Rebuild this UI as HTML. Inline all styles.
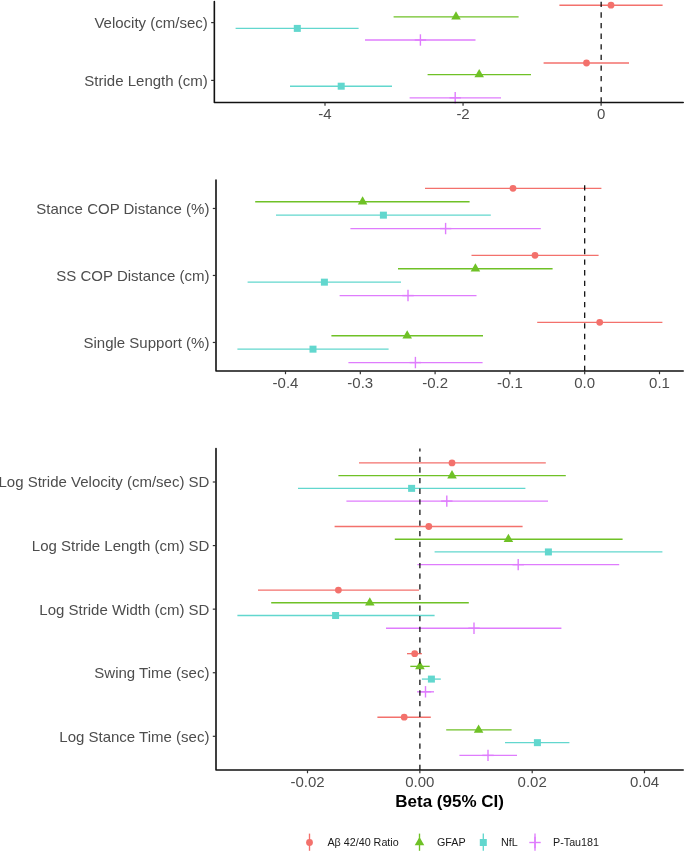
<!DOCTYPE html><html><head><meta charset="utf-8"><style>html,body{margin:0;padding:0;background:#fff}svg{display:block;will-change:transform}text{font-family:"Liberation Sans",sans-serif}</style></head><body>
<svg width="685" height="852" viewBox="0 0 685 852">
<rect width="685" height="852" fill="#fff"/>
<line x1="559.40" y1="5.20" x2="662.60" y2="5.20" stroke="#F3716C" stroke-width="1.35" />
<line x1="393.60" y1="16.80" x2="518.60" y2="16.80" stroke="#6FC126" stroke-width="1.35" />
<line x1="235.60" y1="28.40" x2="358.60" y2="28.40" stroke="#62D7CE" stroke-width="1.35" />
<line x1="365.00" y1="40.00" x2="475.50" y2="40.00" stroke="#DF7CFD" stroke-width="1.35" />
<circle cx="611.00" cy="5.20" r="3.4" fill="#F3716C"/>
<polygon points="456.00,11.28 460.78,19.56 451.22,19.56" fill="#6FC126"/>
<rect x="293.80" y="24.90" width="7.0" height="7.0" fill="#62D7CE"/>
<line x1="414.70" y1="40.00" x2="426.10" y2="40.00" stroke="#DF7CFD" stroke-width="1.4" />
<line x1="420.40" y1="34.30" x2="420.40" y2="45.70" stroke="#DF7CFD" stroke-width="1.4" />
<line x1="543.60" y1="63.00" x2="629.00" y2="63.00" stroke="#F3716C" stroke-width="1.35" />
<line x1="427.60" y1="74.60" x2="531.00" y2="74.60" stroke="#6FC126" stroke-width="1.35" />
<line x1="290.00" y1="86.20" x2="392.00" y2="86.20" stroke="#62D7CE" stroke-width="1.35" />
<line x1="409.60" y1="97.80" x2="501.00" y2="97.80" stroke="#DF7CFD" stroke-width="1.35" />
<circle cx="586.50" cy="63.00" r="3.4" fill="#F3716C"/>
<polygon points="479.20,69.08 483.98,77.36 474.42,77.36" fill="#6FC126"/>
<rect x="337.70" y="82.70" width="7.0" height="7.0" fill="#62D7CE"/>
<line x1="449.50" y1="97.80" x2="460.90" y2="97.80" stroke="#DF7CFD" stroke-width="1.4" />
<line x1="455.20" y1="92.10" x2="455.20" y2="103.50" stroke="#DF7CFD" stroke-width="1.4" />
<line x1="601.15" y1="102.60" x2="601.15" y2="1.60" stroke="#000" stroke-width="1.2" stroke-dasharray="5.31 5.31"/>
<path d="M214.35,1.6 L214.35,102.43 L683.2,102.43" fill="none" stroke="#111" stroke-width="1.6" stroke-linecap="round" stroke-linejoin="round"/>
<line x1="211.15" y1="22.60" x2="214.35" y2="22.60" stroke="#333" stroke-width="1.2" />
<text x="207.75" y="27.95" text-anchor="end" font-size="15" fill="#4D4D4D">Velocity (cm/sec)</text>
<line x1="211.15" y1="80.40" x2="214.35" y2="80.40" stroke="#333" stroke-width="1.2" />
<text x="207.75" y="85.75" text-anchor="end" font-size="15" fill="#4D4D4D">Stride Length (cm)</text>
<line x1="325.00" y1="102.43" x2="325.00" y2="105.63" stroke="#333" stroke-width="1.2" />
<text x="325.00" y="119.33" text-anchor="middle" font-size="15" fill="#4D4D4D">-4</text>
<line x1="463.05" y1="102.43" x2="463.05" y2="105.63" stroke="#333" stroke-width="1.2" />
<text x="463.05" y="119.33" text-anchor="middle" font-size="15" fill="#4D4D4D">-2</text>
<line x1="601.10" y1="102.43" x2="601.10" y2="105.63" stroke="#333" stroke-width="1.2" />
<text x="601.10" y="119.33" text-anchor="middle" font-size="15" fill="#4D4D4D">0</text>
<line x1="425.00" y1="188.36" x2="601.40" y2="188.36" stroke="#F3716C" stroke-width="1.35" />
<line x1="255.20" y1="201.76" x2="469.60" y2="201.76" stroke="#6FC126" stroke-width="1.35" />
<line x1="276.00" y1="215.16" x2="490.80" y2="215.16" stroke="#62D7CE" stroke-width="1.35" />
<line x1="350.40" y1="228.56" x2="540.80" y2="228.56" stroke="#DF7CFD" stroke-width="1.35" />
<circle cx="513.00" cy="188.36" r="3.4" fill="#F3716C"/>
<polygon points="362.60,196.24 367.38,204.52 357.82,204.52" fill="#6FC126"/>
<rect x="379.90" y="211.66" width="7.0" height="7.0" fill="#62D7CE"/>
<line x1="439.90" y1="228.56" x2="451.30" y2="228.56" stroke="#DF7CFD" stroke-width="1.4" />
<line x1="445.60" y1="222.86" x2="445.60" y2="234.26" stroke="#DF7CFD" stroke-width="1.4" />
<line x1="471.50" y1="255.36" x2="598.60" y2="255.36" stroke="#F3716C" stroke-width="1.35" />
<line x1="398.00" y1="268.76" x2="552.60" y2="268.76" stroke="#6FC126" stroke-width="1.35" />
<line x1="247.60" y1="282.16" x2="401.00" y2="282.16" stroke="#62D7CE" stroke-width="1.35" />
<line x1="339.60" y1="295.56" x2="476.50" y2="295.56" stroke="#DF7CFD" stroke-width="1.35" />
<circle cx="535.00" cy="255.36" r="3.4" fill="#F3716C"/>
<polygon points="475.40,263.24 480.18,271.52 470.62,271.52" fill="#6FC126"/>
<rect x="320.90" y="278.66" width="7.0" height="7.0" fill="#62D7CE"/>
<line x1="402.30" y1="295.56" x2="413.70" y2="295.56" stroke="#DF7CFD" stroke-width="1.4" />
<line x1="408.00" y1="289.86" x2="408.00" y2="301.26" stroke="#DF7CFD" stroke-width="1.4" />
<line x1="537.20" y1="322.36" x2="662.40" y2="322.36" stroke="#F3716C" stroke-width="1.35" />
<line x1="331.40" y1="335.76" x2="483.00" y2="335.76" stroke="#6FC126" stroke-width="1.35" />
<line x1="237.40" y1="349.16" x2="388.60" y2="349.16" stroke="#62D7CE" stroke-width="1.35" />
<line x1="348.40" y1="362.56" x2="482.60" y2="362.56" stroke="#DF7CFD" stroke-width="1.35" />
<circle cx="599.70" cy="322.36" r="3.4" fill="#F3716C"/>
<polygon points="407.20,330.24 411.98,338.52 402.42,338.52" fill="#6FC126"/>
<rect x="309.50" y="345.66" width="7.0" height="7.0" fill="#62D7CE"/>
<line x1="409.70" y1="362.56" x2="421.10" y2="362.56" stroke="#DF7CFD" stroke-width="1.4" />
<line x1="415.40" y1="356.86" x2="415.40" y2="368.26" stroke="#DF7CFD" stroke-width="1.4" />
<line x1="584.70" y1="371.00" x2="584.70" y2="180.10" stroke="#000" stroke-width="1.2" stroke-dasharray="5.31 5.31"/>
<path d="M216.0,180.1 L216.0,371.0 L683.2,371.0" fill="none" stroke="#111" stroke-width="1.6" stroke-linecap="round" stroke-linejoin="round"/>
<line x1="212.80" y1="208.46" x2="216.00" y2="208.46" stroke="#333" stroke-width="1.2" />
<text x="209.40" y="213.81" text-anchor="end" font-size="15" fill="#4D4D4D">Stance COP Distance (%)</text>
<line x1="212.80" y1="275.46" x2="216.00" y2="275.46" stroke="#333" stroke-width="1.2" />
<text x="209.40" y="280.81" text-anchor="end" font-size="15" fill="#4D4D4D">SS COP Distance (cm)</text>
<line x1="212.80" y1="342.46" x2="216.00" y2="342.46" stroke="#333" stroke-width="1.2" />
<text x="209.40" y="347.81" text-anchor="end" font-size="15" fill="#4D4D4D">Single Support (%)</text>
<line x1="285.50" y1="371.00" x2="285.50" y2="374.20" stroke="#333" stroke-width="1.2" />
<text x="285.50" y="387.90" text-anchor="middle" font-size="15" fill="#4D4D4D">-0.4</text>
<line x1="360.30" y1="371.00" x2="360.30" y2="374.20" stroke="#333" stroke-width="1.2" />
<text x="360.30" y="387.90" text-anchor="middle" font-size="15" fill="#4D4D4D">-0.3</text>
<line x1="435.10" y1="371.00" x2="435.10" y2="374.20" stroke="#333" stroke-width="1.2" />
<text x="435.10" y="387.90" text-anchor="middle" font-size="15" fill="#4D4D4D">-0.2</text>
<line x1="509.90" y1="371.00" x2="509.90" y2="374.20" stroke="#333" stroke-width="1.2" />
<text x="509.90" y="387.90" text-anchor="middle" font-size="15" fill="#4D4D4D">-0.1</text>
<line x1="584.70" y1="371.00" x2="584.70" y2="374.20" stroke="#333" stroke-width="1.2" />
<text x="584.70" y="387.90" text-anchor="middle" font-size="15" fill="#4D4D4D">0.0</text>
<line x1="659.50" y1="371.00" x2="659.50" y2="374.20" stroke="#333" stroke-width="1.2" />
<text x="659.50" y="387.90" text-anchor="middle" font-size="15" fill="#4D4D4D">0.1</text>
<line x1="359.00" y1="462.92" x2="545.80" y2="462.92" stroke="#F3716C" stroke-width="1.35" />
<line x1="338.40" y1="475.64" x2="565.80" y2="475.64" stroke="#6FC126" stroke-width="1.35" />
<line x1="298.00" y1="488.36" x2="525.40" y2="488.36" stroke="#62D7CE" stroke-width="1.35" />
<line x1="346.40" y1="501.08" x2="548.00" y2="501.08" stroke="#DF7CFD" stroke-width="1.35" />
<circle cx="452.00" cy="462.92" r="3.4" fill="#F3716C"/>
<polygon points="452.00,470.12 456.78,478.40 447.22,478.40" fill="#6FC126"/>
<rect x="408.10" y="484.86" width="7.0" height="7.0" fill="#62D7CE"/>
<line x1="441.10" y1="501.08" x2="452.50" y2="501.08" stroke="#DF7CFD" stroke-width="1.4" />
<line x1="446.80" y1="495.38" x2="446.80" y2="506.78" stroke="#DF7CFD" stroke-width="1.4" />
<line x1="334.60" y1="526.50" x2="522.60" y2="526.50" stroke="#F3716C" stroke-width="1.35" />
<line x1="394.80" y1="539.22" x2="622.60" y2="539.22" stroke="#6FC126" stroke-width="1.35" />
<line x1="434.60" y1="551.94" x2="662.40" y2="551.94" stroke="#62D7CE" stroke-width="1.35" />
<line x1="417.40" y1="564.66" x2="619.20" y2="564.66" stroke="#DF7CFD" stroke-width="1.35" />
<circle cx="428.80" cy="526.50" r="3.4" fill="#F3716C"/>
<polygon points="508.40,533.70 513.18,541.98 503.62,541.98" fill="#6FC126"/>
<rect x="544.90" y="548.44" width="7.0" height="7.0" fill="#62D7CE"/>
<line x1="512.50" y1="564.66" x2="523.90" y2="564.66" stroke="#DF7CFD" stroke-width="1.4" />
<line x1="518.20" y1="558.96" x2="518.20" y2="570.36" stroke="#DF7CFD" stroke-width="1.4" />
<line x1="258.00" y1="590.07" x2="419.00" y2="590.07" stroke="#F3716C" stroke-width="1.35" />
<line x1="271.20" y1="602.79" x2="468.80" y2="602.79" stroke="#6FC126" stroke-width="1.35" />
<line x1="237.40" y1="615.51" x2="434.60" y2="615.51" stroke="#62D7CE" stroke-width="1.35" />
<line x1="386.00" y1="628.23" x2="561.40" y2="628.23" stroke="#DF7CFD" stroke-width="1.35" />
<circle cx="338.40" cy="590.07" r="3.4" fill="#F3716C"/>
<polygon points="369.80,597.27 374.58,605.55 365.02,605.55" fill="#6FC126"/>
<rect x="332.10" y="612.01" width="7.0" height="7.0" fill="#62D7CE"/>
<line x1="468.30" y1="628.23" x2="479.70" y2="628.23" stroke="#DF7CFD" stroke-width="1.4" />
<line x1="474.00" y1="622.53" x2="474.00" y2="633.93" stroke="#DF7CFD" stroke-width="1.4" />
<line x1="407.00" y1="653.65" x2="421.90" y2="653.65" stroke="#F3716C" stroke-width="1.35" />
<line x1="410.30" y1="666.37" x2="429.70" y2="666.37" stroke="#6FC126" stroke-width="1.35" />
<line x1="421.90" y1="679.09" x2="440.80" y2="679.09" stroke="#62D7CE" stroke-width="1.35" />
<line x1="417.10" y1="691.81" x2="434.00" y2="691.81" stroke="#DF7CFD" stroke-width="1.35" />
<circle cx="414.70" cy="653.65" r="3.4" fill="#F3716C"/>
<polygon points="419.90,660.85 424.68,669.13 415.12,669.13" fill="#6FC126"/>
<rect x="427.90" y="675.59" width="7.0" height="7.0" fill="#62D7CE"/>
<line x1="419.80" y1="691.81" x2="431.20" y2="691.81" stroke="#DF7CFD" stroke-width="1.4" />
<line x1="425.50" y1="686.11" x2="425.50" y2="697.51" stroke="#DF7CFD" stroke-width="1.4" />
<line x1="377.40" y1="717.22" x2="430.80" y2="717.22" stroke="#F3716C" stroke-width="1.35" />
<line x1="446.20" y1="729.94" x2="511.60" y2="729.94" stroke="#6FC126" stroke-width="1.35" />
<line x1="505.00" y1="742.66" x2="569.40" y2="742.66" stroke="#62D7CE" stroke-width="1.35" />
<line x1="459.40" y1="755.38" x2="517.00" y2="755.38" stroke="#DF7CFD" stroke-width="1.35" />
<circle cx="404.20" cy="717.22" r="3.4" fill="#F3716C"/>
<polygon points="478.60,724.42 483.38,732.70 473.82,732.70" fill="#6FC126"/>
<rect x="533.90" y="739.16" width="7.0" height="7.0" fill="#62D7CE"/>
<line x1="482.30" y1="755.38" x2="493.70" y2="755.38" stroke="#DF7CFD" stroke-width="1.4" />
<line x1="488.00" y1="749.68" x2="488.00" y2="761.08" stroke="#DF7CFD" stroke-width="1.4" />
<line x1="419.90" y1="770.00" x2="419.90" y2="448.50" stroke="#000" stroke-width="1.2" stroke-dasharray="5.31 5.31"/>
<path d="M216.0,448.5 L216.0,770.05 L683.2,770.05" fill="none" stroke="#111" stroke-width="1.6" stroke-linecap="round" stroke-linejoin="round"/>
<line x1="212.80" y1="482.00" x2="216.00" y2="482.00" stroke="#333" stroke-width="1.2" />
<text x="209.40" y="487.35" text-anchor="end" font-size="15" fill="#4D4D4D">Log Stride Velocity (cm/sec) SD</text>
<line x1="212.80" y1="545.58" x2="216.00" y2="545.58" stroke="#333" stroke-width="1.2" />
<text x="209.40" y="550.93" text-anchor="end" font-size="15" fill="#4D4D4D">Log Stride Length (cm) SD</text>
<line x1="212.80" y1="609.15" x2="216.00" y2="609.15" stroke="#333" stroke-width="1.2" />
<text x="209.40" y="614.50" text-anchor="end" font-size="15" fill="#4D4D4D">Log Stride Width (cm) SD</text>
<line x1="212.80" y1="672.73" x2="216.00" y2="672.73" stroke="#333" stroke-width="1.2" />
<text x="209.40" y="678.08" text-anchor="end" font-size="15" fill="#4D4D4D">Swing Time (sec)</text>
<line x1="212.80" y1="736.30" x2="216.00" y2="736.30" stroke="#333" stroke-width="1.2" />
<text x="209.40" y="741.65" text-anchor="end" font-size="15" fill="#4D4D4D">Log Stance Time (sec)</text>
<line x1="307.50" y1="770.05" x2="307.50" y2="773.25" stroke="#333" stroke-width="1.2" />
<text x="307.50" y="786.95" text-anchor="middle" font-size="15" fill="#4D4D4D">-0.02</text>
<line x1="419.85" y1="770.05" x2="419.85" y2="773.25" stroke="#333" stroke-width="1.2" />
<text x="419.85" y="786.95" text-anchor="middle" font-size="15" fill="#4D4D4D">0.00</text>
<line x1="532.20" y1="770.05" x2="532.20" y2="773.25" stroke="#333" stroke-width="1.2" />
<text x="532.20" y="786.95" text-anchor="middle" font-size="15" fill="#4D4D4D">0.02</text>
<line x1="644.50" y1="770.05" x2="644.50" y2="773.25" stroke="#333" stroke-width="1.2" />
<text x="644.50" y="786.95" text-anchor="middle" font-size="15" fill="#4D4D4D">0.04</text>
<text x="449.6" y="806.7" text-anchor="middle" font-size="17" font-weight="bold" fill="#000">Beta (95% CI)</text>
<line x1="309.50" y1="833.60" x2="309.50" y2="850.80" stroke="#F3716C" stroke-width="1.35" />
<circle cx="309.50" cy="842.50" r="3.4" fill="#F3716C"/>
<line x1="419.50" y1="833.60" x2="419.50" y2="850.80" stroke="#6FC126" stroke-width="1.35" />
<polygon points="419.50,836.98 424.28,845.26 414.72,845.26" fill="#6FC126"/>
<line x1="483.30" y1="833.60" x2="483.30" y2="850.80" stroke="#62D7CE" stroke-width="1.35" />
<rect x="479.80" y="839.00" width="7.0" height="7.0" fill="#62D7CE"/>
<line x1="535.00" y1="833.60" x2="535.00" y2="850.80" stroke="#DF7CFD" stroke-width="1.35" />
<line x1="529.30" y1="842.50" x2="540.70" y2="842.50" stroke="#DF7CFD" stroke-width="1.4" />
<line x1="535.00" y1="836.80" x2="535.00" y2="848.20" stroke="#DF7CFD" stroke-width="1.4" />
<text x="327.4" y="846.3" font-size="10.75" fill="#1A1A1A">Aβ 42/40 Ratio</text>
<text x="437" y="846.3" font-size="10.75" fill="#1A1A1A">GFAP</text>
<text x="501" y="846.3" font-size="10.75" fill="#1A1A1A">NfL</text>
<text x="553" y="846.3" font-size="10.75" fill="#1A1A1A">P-Tau181</text>
</svg></body></html>
